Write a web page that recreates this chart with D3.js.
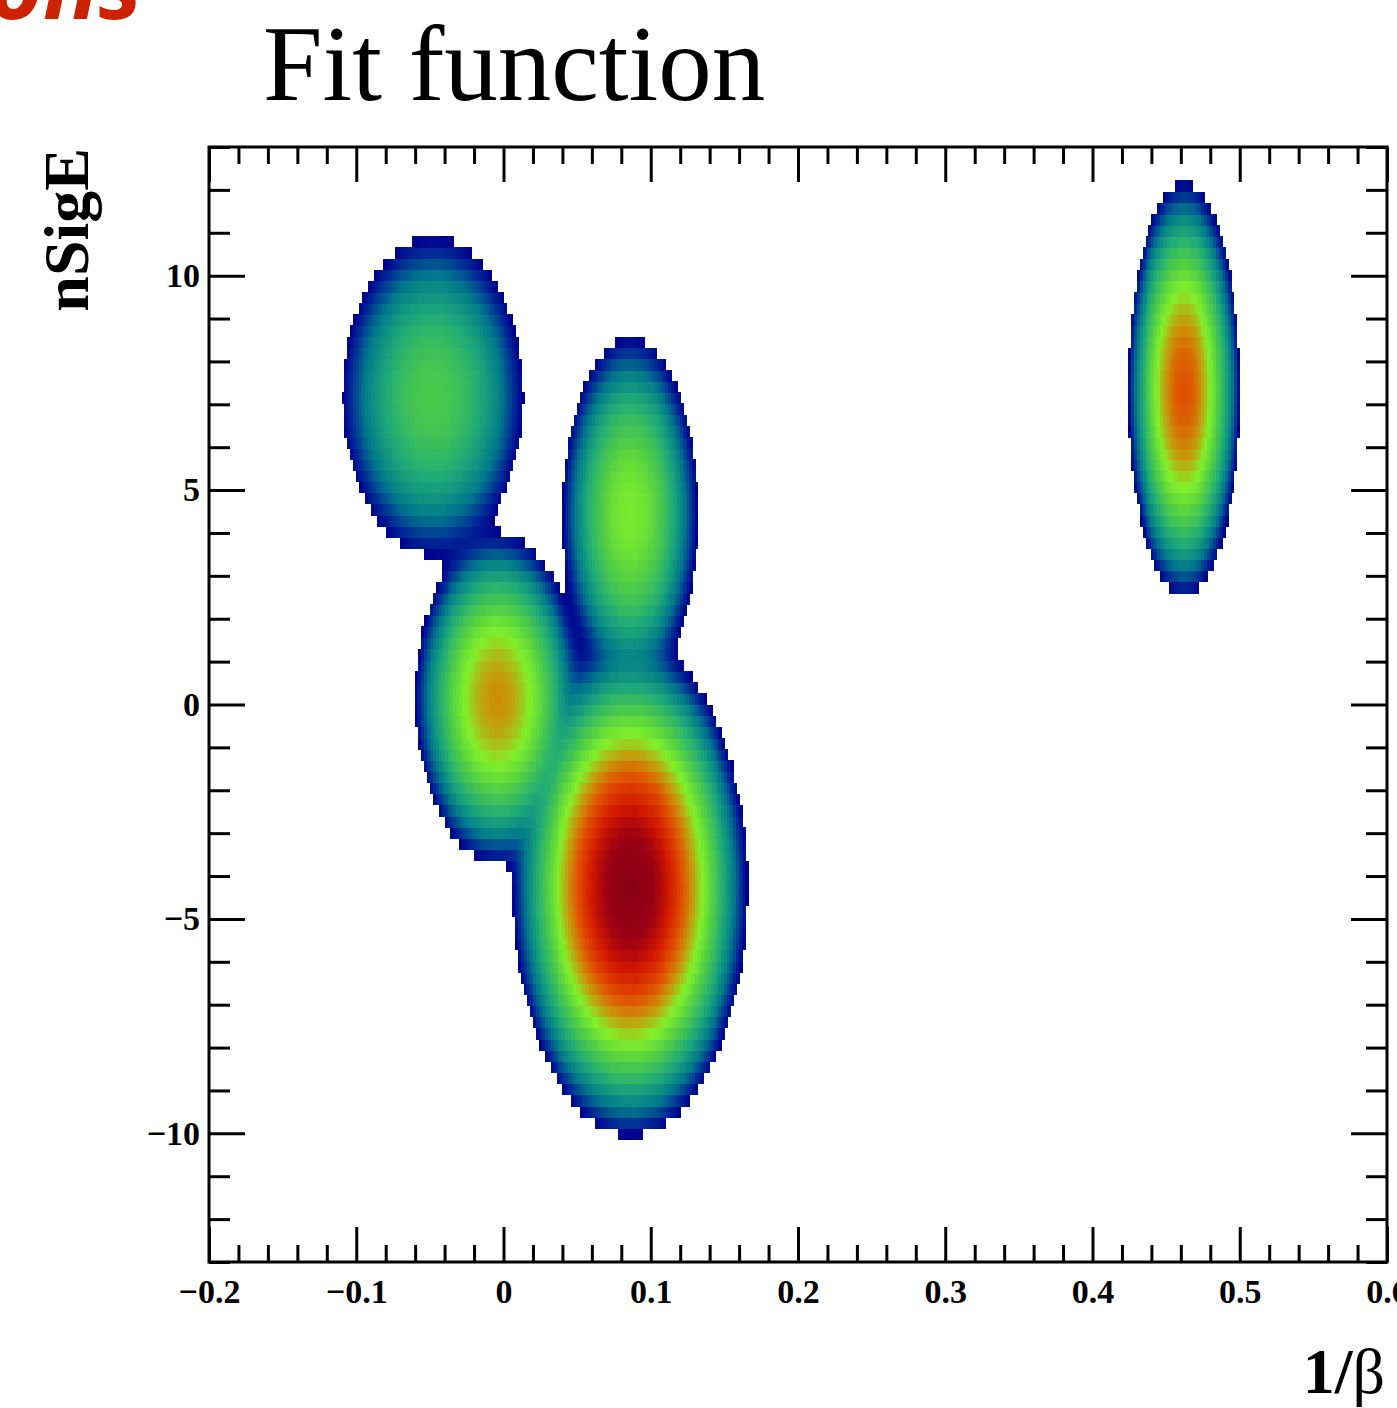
<!DOCTYPE html>
<html>
<head>
<meta charset="utf-8">
<script src="https://cdn.jsdelivr.net/npm/d3@7"></script>
<style>
  html, body { margin: 0; padding: 0; background: #fff; }
  svg { display: block; }
</style>
</head>
<body>
<svg id="chart" width="1397" height="1408"></svg>
<script>
// Axis ranges and binning of the evaluated fit function
const xRange = [-0.2, 0.6];
const yRange = [-13, 13];
const nBinsX = 400;
const nBinsY = 100;

// Fit components: 2D Gaussians (amplitude, mean and width in 1/beta and nSigE)
const compAmp    = [1.000, 0.088, 0.0273, 0.0095, 0.165];
const compMeanX  = [0.086, -0.004, 0.086, -0.048, 0.462];
const compMeanY  = [-4.27, 0.14, 4.47, 7.19, 7.35];
const compSigmaX = [0.0187, 0.0154, 0.0139, 0.0207, 0.0100];
const compSigmaY = [1.36, 1.05, 1.24, 1.25, 1.27];

// z range of the colour scale (log z), as orders of e below the maximum
const zLogRange = 9;

// Tick values and labels
const xMajorTicks = [-0.2, -0.1, 0, 0.1, 0.2, 0.3, 0.4, 0.5, 0.6];
const xMinorStep = 0.02;
const yMajorTicks = [-10, -5, 0, 5, 10];
const yMinorStep = 1;

// Colour palette stops (fraction of log z range)
const paletteStops  = [0.00, 0.08, 0.20, 0.35, 0.50, 0.62, 0.72, 0.80, 0.89, 0.96, 1.00];
const paletteColors = ["#00008c", "#002896", "#00788c", "#1eaa78", "#50cd46",
                       "#82f028", "#c8960a", "#e15000", "#d21800", "#9a0014", "#8c0014"];

const svg = d3.select("#chart");
const m = { left: 209, right: 1387, top: 147, bottom: 1262 };

const x = d3.scaleLinear().domain(xRange).range([m.left, m.right]);
const y = d3.scaleLinear().domain(yRange).range([m.bottom, m.top]);

// Evaluate the fit function on the bin grid
function fitFunc(xv, yv) {
  let s = 0;
  for (let i = 0; i < compAmp.length; i++) {
    const dx = (xv - compMeanX[i]) / compSigmaX[i];
    const dy = (yv - compMeanY[i]) / compSigmaY[i];
    s += compAmp[i] * Math.exp(-0.5 * (dx * dx + dy * dy));
  }
  return s;
}

const bw = (xRange[1] - xRange[0]) / nBinsX;
const bh = (yRange[1] - yRange[0]) / nBinsY;
const cells = [];
for (let j = 0; j < nBinsY; j++) {
  for (let i = 0; i < nBinsX; i++) {
    const x0 = xRange[0] + i * bw, y0 = yRange[0] + j * bh;
    cells.push({ x0, x1: x0 + bw, y0, y1: y0 + bh, v: fitFunc(x0 + bw / 2, y0 + bh / 2) });
  }
}
const zMax = d3.max(cells, d => d.v);
const zMin = zMax * Math.exp(-zLogRange);

const zScale = d3.scaleLog().domain([zMin, zMax]).range([0, 1]).clamp(true);
const palette = d3.scaleLinear().domain(paletteStops).range(paletteColors)
  .interpolate(d3.interpolateRgb);

// Heat map cells above the minimum
svg.append("g")
  .attr("shape-rendering", "crispEdges")
  .selectAll("rect")
  .data(cells.filter(d => d.v >= zMin))
  .join("rect")
  .attr("x", d => x(d.x0))
  .attr("y", d => y(d.y1))
  .attr("width", d => x(d.x1) - x(d.x0) + 0.6)
  .attr("height", d => y(d.y0) - y(d.y1) + 0.6)
  .attr("fill", d => palette(zScale(d.v)));

// Ticks: major and minor values
const xMinor = d3.range(xRange[0], xRange[1] + 1e-9, xMinorStep)
  .filter(v => !xMajorTicks.some(t => Math.abs(t - v) < 1e-9));
const yMinor = d3.range(yRange[0], yRange[1] + 1e-9, yMinorStep)
  .filter(v => !yMajorTicks.some(t => Math.abs(t - v) < 1e-9));

const fmt = v => (Math.abs(v) < 1e-12 ? "0" : d3.format("")(+v.toFixed(2))).replace("-", "\u2212");

function styleAxis(g) {
  g.select(".domain").remove();
  g.selectAll("line").attr("stroke", "#000").attr("stroke-width", 3);
  g.selectAll("text")
    .attr("font-family", "'Liberation Serif', 'Times New Roman', serif")
    .attr("font-weight", "bold")
    .attr("font-size", 34)
    .attr("fill", "#000");
}

// Bottom axis
svg.append("g").attr("transform", `translate(0,${m.bottom})`)
  .call(d3.axisBottom(x).tickValues(xMajorTicks).tickSize(-35).tickPadding(17).tickFormat(fmt))
  .call(styleAxis);
svg.append("g").attr("transform", `translate(0,${m.bottom})`)
  .call(d3.axisBottom(x).tickValues(xMinor).tickSize(-17).tickFormat(""))
  .call(styleAxis);
// Top axis (mirrored ticks)
svg.append("g").attr("transform", `translate(0,${m.top})`)
  .call(d3.axisTop(x).tickValues(xMajorTicks).tickSize(-35).tickFormat(""))
  .call(styleAxis);
svg.append("g").attr("transform", `translate(0,${m.top})`)
  .call(d3.axisTop(x).tickValues(xMinor).tickSize(-17).tickFormat(""))
  .call(styleAxis);
// Left axis
svg.append("g").attr("transform", `translate(${m.left},0)`)
  .call(d3.axisLeft(y).tickValues(yMajorTicks).tickSize(-36).tickPadding(9).tickFormat(fmt))
  .call(styleAxis);
svg.append("g").attr("transform", `translate(${m.left},0)`)
  .call(d3.axisLeft(y).tickValues(yMinor).tickSize(-21).tickFormat(""))
  .call(styleAxis);
// Right axis (mirrored ticks)
svg.append("g").attr("transform", `translate(${m.right},0)`)
  .call(d3.axisRight(y).tickValues(yMajorTicks).tickSize(-36).tickFormat(""))
  .call(styleAxis);
svg.append("g").attr("transform", `translate(${m.right},0)`)
  .call(d3.axisRight(y).tickValues(yMinor).tickSize(-21).tickFormat(""))
  .call(styleAxis);

// Frame
svg.append("rect")
  .attr("x", m.left).attr("y", m.top)
  .attr("width", m.right - m.left).attr("height", m.bottom - m.top)
  .attr("fill", "none").attr("stroke", "#000").attr("stroke-width", 3);

// Axis titles
svg.append("text")
  .attr("x", 1385).attr("y", 1393)
  .attr("text-anchor", "end")
  .attr("font-family", "'Liberation Serif', 'Times New Roman', serif")
  .attr("font-size", 64)
  .call(t => {
    t.append("tspan").attr("font-weight", "bold").text("1/");
    t.append("tspan").text("\u03b2");
  });

svg.append("text")
  .attr("transform", "translate(88,148) rotate(-90)")
  .attr("text-anchor", "end")
  .attr("font-family", "'Liberation Serif', 'Times New Roman', serif")
  .attr("font-weight", "bold")
  .attr("font-size", 64)
  .text("nSigE");

// Title
svg.append("text")
  .attr("x", 263).attr("y", 100)
  .attr("font-family", "'Liberation Serif', 'Times New Roman', serif")
  .attr("font-size", 107)
  .text("Fit function");

// Slide heading remnant at the top-left corner
svg.append("text")
  .attr("x", 142).attr("y", 19)
  .attr("text-anchor", "end")
  .attr("font-family", "'Open Sans', 'DejaVu Sans', sans-serif")
  .attr("font-weight", "bold")
  .attr("font-style", "italic")
  .attr("font-size", 92)
  .attr("fill", "#cc2200")
  .text("ions");
</script>
</body>
</html>
